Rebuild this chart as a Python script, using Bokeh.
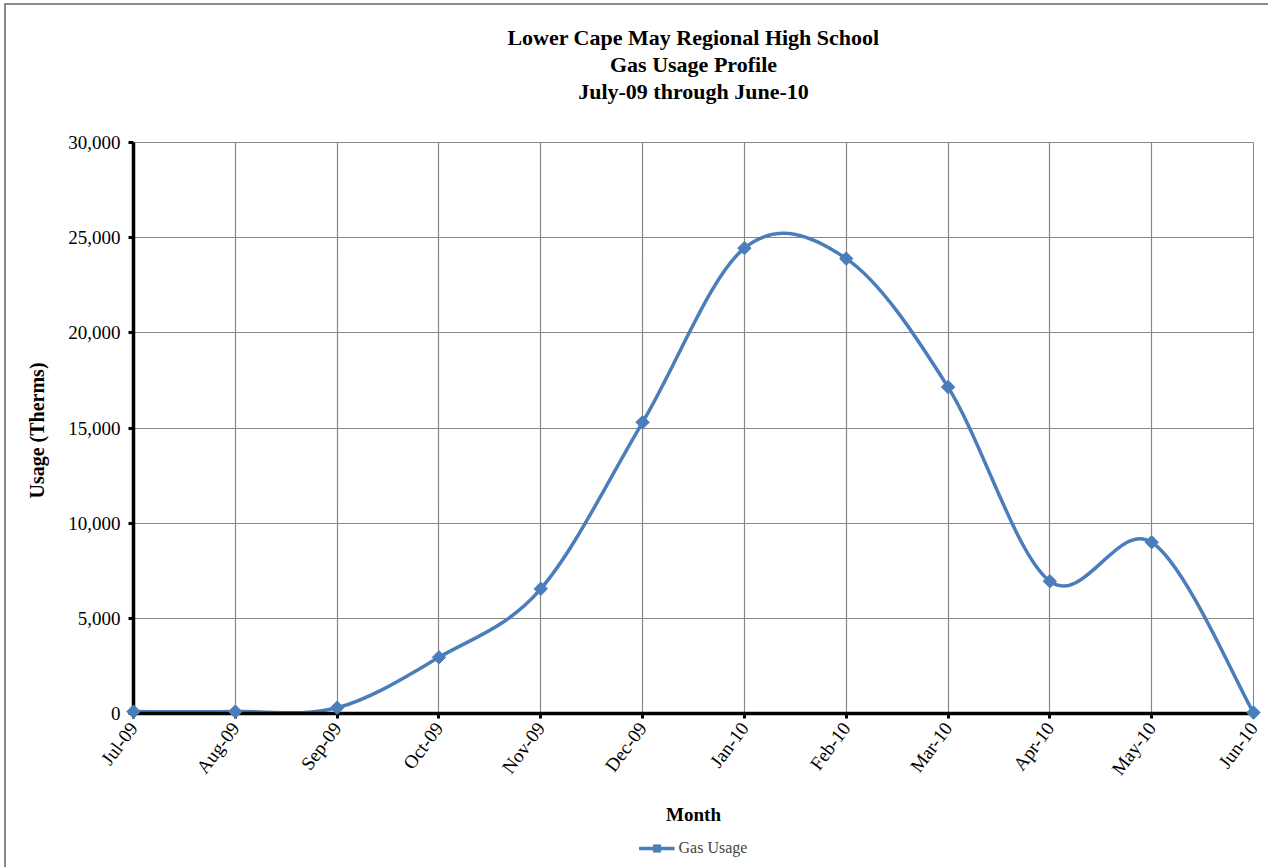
import math
from bokeh.plotting import figure
from bokeh.layouts import column
from bokeh.models import (FixedTicker, NumeralTickFormatter, Range1d, Title, Legend,
                          LegendItem, ColumnDataSource)
from bokeh.embed import file_html
from bokeh.resources import INLINE

# ---- data ----
months = ["Jul-09", "Aug-09", "Sep-09", "Oct-09", "Nov-09", "Dec-09",
          "Jan-10", "Feb-10", "Mar-10", "Apr-10", "May-10", "Jun-10"]
usage = [100, 100, 300, 2950, 6550, 15300, 24450, 23900, 17150, 6950, 9000, 50]
y_ticks = [0, 5000, 10000, 15000, 20000, 25000, 30000]
title_lines = ["Lower Cape May Regional High School", "Gas Usage Profile",
               "July-09 through June-10"]
series_name = "Gas Usage"

BLUE = "#4a7ebb"
GRID = "#878787"
FONT = "Liberation Serif"
FRAME_BORDER = "2px solid #8a8a8a"

xs = list(range(len(months)))
n = len(xs)

# smoothed (Catmull-Rom style) bezier segments through the data points
seg = dict(x0=[], y0=[], x1=[], y1=[], cx0=[], cy0=[], cx1=[], cy1=[])
for i in range(n - 1):
    a = max(i - 1, 0)
    b = min(i + 2, n - 1)
    seg["x0"].append(xs[i]); seg["y0"].append(usage[i])
    seg["x1"].append(xs[i + 1]); seg["y1"].append(usage[i + 1])
    seg["cx0"].append(xs[i] + (xs[i + 1] - xs[a]) / 6.0)
    seg["cy0"].append(usage[i] + (usage[i + 1] - usage[a]) / 6.0)
    seg["cx1"].append(xs[i + 1] - (xs[b] - xs[i]) / 6.0)
    seg["cy1"].append(usage[i + 1] - (usage[b] - usage[i]) / 6.0)

p = figure(frame_width=1118, frame_height=569, x_range=Range1d(0, len(months) - 1),
           y_range=Range1d(0, 30000), output_backend="svg", toolbar_location=None,
           min_border_left=127, min_border_right=17, min_border_top=137,
           min_border_bottom=118, outline_line_color=GRID, outline_line_width=1,
           background_fill_color="white", border_fill_color="white",
           margin=(3, 0, 0, 4),
           styles={"border-top": FRAME_BORDER, "border-left": FRAME_BORDER})
p.title = None

# spacer between the frame and the title block
p.add_layout(Title(text=" ", text_font=FONT, text_font_size="34px", standoff=0), "above")
for txt in reversed(title_lines):
    t = Title(text=txt, align="center", text_font=FONT, text_font_size="22px",
              text_font_style="bold", text_color="black", standoff=0)
    p.add_layout(t, "above")

src = ColumnDataSource(seg)
curve = p.bezier(x0="x0", y0="y0", x1="x1", y1="y1", cx0="cx0", cy0="cy0", cx1="cx1",
                 cy1="cy1", source=src, line_color=BLUE, line_width=3.5)
sc = p.scatter(xs, usage, marker="square", angle=math.pi / 4, size=9.5,
               fill_color=BLUE, line_color=BLUE, level="overlay")

# axes
p.xaxis.ticker = FixedTicker(ticks=xs)
p.xaxis.major_label_overrides = {i: m for i, m in enumerate(months)}
p.xaxis.major_label_orientation = 0.93
p.yaxis.ticker = FixedTicker(ticks=y_ticks)
p.yaxis.formatter = NumeralTickFormatter(format="0,0")
for ax in (p.xaxis, p.yaxis):
    ax.axis_line_color = "black"
    ax.axis_line_width = 3.5
    ax.major_tick_line_color = "black"
    ax.major_tick_line_width = 3
    ax.major_tick_out = 5
    ax.major_tick_in = 0
    ax.minor_tick_line_color = None
    ax.major_label_text_font = FONT
    ax.major_label_text_font_size = "19px"
    ax.major_label_text_color = "black"
    ax.axis_label_text_font = FONT
    ax.axis_label_text_font_size = "19px"
    ax.axis_label_text_font_style = "bold"
    ax.axis_label_text_color = "black"
p.yaxis.axis_label_text_font_size = "20px"
p.yaxis.axis_label = "Usage  (Therms)"
p.xaxis.major_label_standoff = 6
p.yaxis.major_label_standoff = 8
p.yaxis.axis_label_standoff = 17

p.xgrid.ticker = FixedTicker(ticks=xs)
p.ygrid.ticker = FixedTicker(ticks=y_ticks)
for g in (p.xgrid, p.ygrid):
    g.grid_line_color = GRID
    g.grid_line_width = 1.2

# x axis title below the axis
p.add_layout(Title(text=" ", text_font=FONT, text_font_size="10px", standoff=0), "below")
month_title = Title(text="Month", align="center", text_font=FONT, text_font_size="19px",
                    text_font_style="bold", text_color="black", standoff=0)
p.add_layout(month_title, "below")

# legend strip underneath (same series styling, data kept out of its view)
p2 = figure(frame_width=1118, frame_height=38, x_range=Range1d(100, 101),
            y_range=Range1d(100000, 100001), output_backend="svg", toolbar_location=None,
            x_axis_type=None, y_axis_type=None, min_border_left=127,
            min_border_right=17, min_border_top=0, min_border_bottom=0,
            outline_line_color=None, background_fill_color="white",
            border_fill_color="white", margin=(0, 0, 0, 4),
            styles={"border-left": FRAME_BORDER})
p2.title = None
p2.xgrid.visible = False
p2.ygrid.visible = False
curve2 = p2.bezier(x0="x0", y0="y0", x1="x1", y1="y1", cx0="cx0", cy0="cy0", cx1="cx1",
                   cy1="cy1", source=src, line_color=BLUE, line_width=3.5)
sc2 = p2.scatter(xs, usage, marker="square", angle=math.pi / 4, size=9.5,
                 fill_color=BLUE, line_color=BLUE)
legend = Legend(items=[LegendItem(label=series_name, renderers=[curve2, sc2])],
                location="center", orientation="horizontal", border_line_color=None,
                background_fill_alpha=0, label_text_font=FONT,
                label_text_font_size="16px", glyph_width=36, glyph_height=18,
                label_height=18, label_standoff=4, margin=0, padding=0)
p2.add_layout(legend, "center")

layout = column(p, p2, spacing=0)
open("out.html", "w").write(file_html(layout, INLINE))
